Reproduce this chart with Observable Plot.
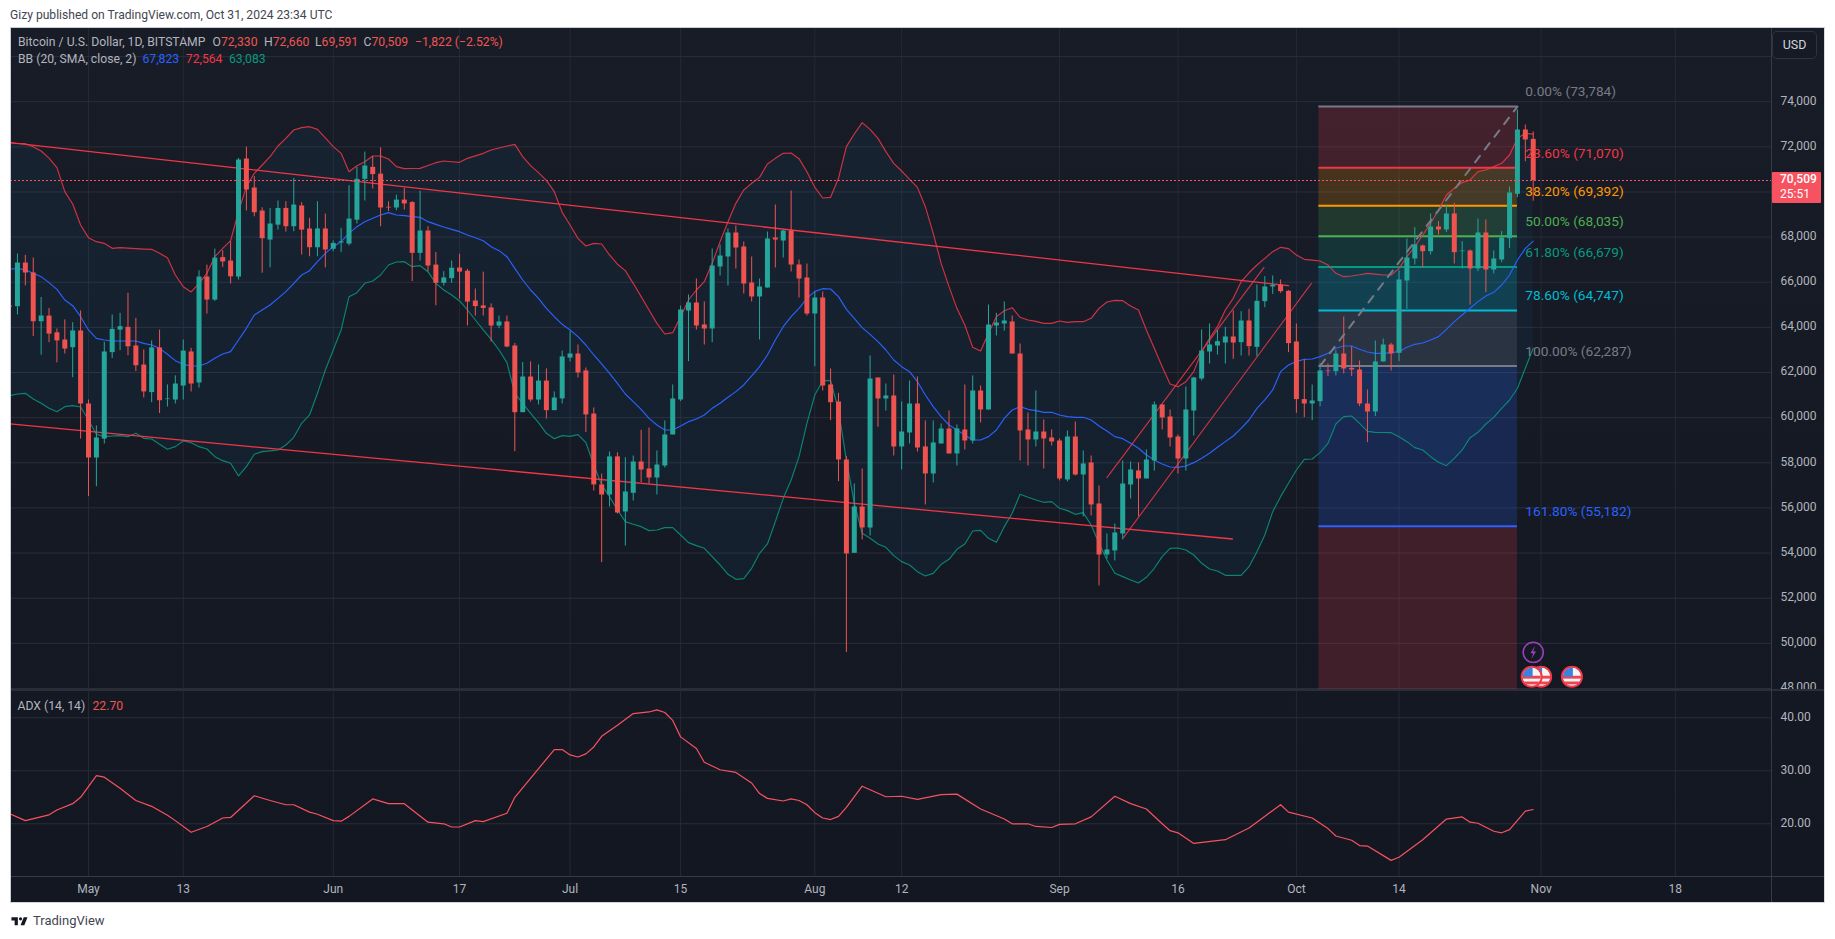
<!DOCTYPE html>
<html>
<head>
<meta charset="utf-8">
<script src="https://cdn.jsdelivr.net/npm/d3@7"></script>
<script src="https://cdn.jsdelivr.net/npm/@observablehq/plot@0.6"></script>
<style>
html,body{margin:0;padding:0;background:#fff;}
#page{position:relative;width:1835px;height:939px;overflow:hidden;font-family:Roboto,sans-serif;}
#panel{position:absolute;left:10px;top:27px;width:1815px;height:876px;background:linear-gradient(#181c27,#131722);}
#panel:after{content:"";position:absolute;inset:0;border:1px solid #c9ccd4;border-right-color:#d8dae0;border-bottom-color:#d1d4dc;pointer-events:none;}
.pane{position:absolute;left:0;}
.pane svg{display:block;background:transparent;}
.hr{position:absolute;left:0;width:1815px;background:#2a2e39;}
.vr{position:absolute;left:1761px;width:1px;top:0;height:876px;background:#363a45;}
.t{position:absolute;white-space:nowrap;font-size:12.2px;line-height:16px;transform:translateY(-50%);color:#b2b5be;}
.r{color:#f0564f;}
.tag{position:absolute;left:1772px;top:172px;width:49px;height:31px;background:#f7525f;border-radius:1px;color:#fff;font-size:12px;}
.tag div{position:absolute;left:8px;line-height:14px;}
.usd{position:absolute;left:1772px;top:31px;width:43px;height:26px;border:1px solid #2f333f;border-radius:5px;background:#161a25;color:#d1d4dc;font-size:12.5px;line-height:26px;text-align:center;box-sizing:content-box;}
</style>
</head>
<body>
<div id="page">
  <div class="t" style="left:10px;top:15px;color:#434651;font-size:12.1px">Gizy published on TradingView.com, Oct 31, 2024 23:34 UTC</div>
  <div id="panel">
    <div class="pane" id="price" style="top:0"></div>
    <div class="hr" style="top:662px;height:2px"></div>
    <div class="pane" id="adx" style="top:663px"></div>
    <div class="hr" style="top:849px;height:1px;background:#363a45"></div>
    <div class="vr"></div>
  </div>
  <div class="t" style="left:18px;top:42px">Bitcoin / U.S. Dollar, 1D, BITSTAMP</div>
  <div class="t" style="left:212.5px;top:42px">O<span class="r">72,330</span></div>
  <div class="t" style="left:264px;top:42px">H<span class="r">72,660</span></div>
  <div class="t" style="left:315px;top:42px">L<span class="r">69,591</span></div>
  <div class="t" style="left:363.5px;top:42px">C<span class="r">70,509</span></div>
  <div class="t r" style="left:415px;top:42px">−1,822 (−2.52%)</div>
  <div class="t" style="left:18px;top:59px">BB (20, SMA, close, 2)</div>
  <div class="t" style="left:142.5px;top:59px;color:#2962ff">67,823</div>
  <div class="t" style="left:185.8px;top:59px;color:#f23645">72,564</div>
  <div class="t" style="left:229px;top:59px;color:#089981">63,083</div>
  <div class="t" style="left:17.5px;top:706px">ADX (14, 14)</div>
  <div class="t r" style="left:92.5px;top:706px">22.70</div>
  <div class="tag"><div style="top:0px;font-weight:500">70,509</div><div style="top:15px">25:51</div></div>
  <div class="usd">USD</div>
  <svg style="position:absolute;left:10px;top:914px" width="20" height="15" viewBox="0 0 36 28"><path fill="#131722" d="M14 6H2v6h6v9h6V6zm12 15h-7l6-15h7l-6 15zm-7-9a3 3 0 100-6 3 3 0 000 6z"/></svg>
  <div class="t" style="left:33px;top:921px;color:#434651;font-size:13px">TradingView</div>
</div>
<script>
// ---- dates: first candle, and the day index of May 1 within the arrays
const firstCandle = Date.UTC(2024, 3, 21);
const DAY = 864e5;
const may1 = Date.UTC(2024, 4, 1);
const dayDate = d => new Date(may1 + d * DAY);

// ---- candles, one per day from Apr 21 to Oct 31 2024
const opens = [64950,64917,66851,66410,64250,64500,63760,63440,63100,63840,
60605,58213,59050,62880,63880,64000,63175,62330,61110,63090,
60800,60780,61400,62910,61535,66230,65210,67090,66940,66230,
71460,70175,69155,67870,68530,69270,68460,69380,68360,67530,
68360,67460,67740,67690,68750,70560,71090,70790,69320,69290,
69640,69530,67280,68270,66760,65950,66160,66630,66490,65170,
64950,64860,64060,64240,63175,60220,61800,60780,61620,60310,
60830,62640,62820,62070,60160,57020,56570,58260,55820,56647,
58035,57725,57326,57858,59232,60782,64726,65080,64106,63928,
66675,67118,68182,67561,65966,65346,65745,67960,67827,68270,
66764,66188,64593,65302,61447,60693,58124,53988,56041,55111,
61757,60827,60960,58700,59320,60605,58700,57503,58833,59497,
58390,59453,58966,61181,60339,64061,64150,64238,62820,59453,
59010,59364,59099,58966,57238,59143,57459,57991,56174,53914,
54092,54845,57016,57637,57282,58080,60561,60029,59143,58168,
60295,61713,62909,63175,63308,63574,63323,64283,63116,65140,
65790,65864,65598,63353,60800,60605,60708,62068,62038,62821,
62186,62112,60605,60250,62467,63220,62850,66055,67030,67606,
67355,68448,68315,69024,67355,67385,66587,68183,66543,66986,
67931,69896,72746,72330];
const closes = [64900,66851,66410,64250,64503,63700,63400,63040,63840,60605,
58213,59100,62910,63910,64030,63140,62300,61140,63090,60750,
60827,61490,62950,61490,66230,65210,67070,66900,66240,71415,
70090,69080,67930,68580,69270,68460,69420,68310,67530,68360,
67430,67720,67790,68800,70560,71150,70770,69290,69290,69640,
69470,67280,68270,66720,65950,66190,66620,66450,65120,64920,
64840,64060,64240,63130,60220,61800,60780,61620,60310,60870,
62690,62820,61980,60120,57020,56570,58260,55775,56706,58035,
57681,57326,57902,59232,60827,64770,65080,64061,63928,66720,
67163,68182,67517,65922,65346,65789,67916,67872,68270,66764,
66143,64593,65302,61402,60664,58124,53959,56041,55111,61713,
60827,60960,58700,59364,60605,58655,57503,58877,59497,58390,
59497,58966,61181,60339,64105,64194,64283,62820,59409,59010,
59364,59054,58921,57282,59143,57459,57947,56130,53914,54136,
54889,57060,57681,57282,58124,60561,59985,59099,58168,60339,
61757,62953,63220,63367,63574,63308,64283,63146,65155,65790,
65864,65583,63279,60800,60605,60738,62068,62038,62821,62156,
62112,60605,60250,62467,63220,62821,66100,67075,67651,67355,
68448,68315,69024,67311,67385,66587,68183,66543,67030,67961,
69955,72746,72303,70509];
const highs = [65300,67250,67190,67070,65320,64840,63930,64330,64210,64730,
60780,59630,63340,64550,64620,65510,64400,63000,63400,63880,
61450,61850,63440,63070,66510,66760,67470,67400,67800,71490,
71990,70680,69300,69270,69600,69570,70600,69530,68830,69570,
69020,67830,68390,70280,71090,71770,71560,71950,69560,69860,
70160,69570,70040,68460,67320,66470,66940,67240,66570,65700,
66450,65040,64500,64500,63290,62440,62470,62330,62160,61140,
62950,63810,63220,62200,60430,57500,58480,58440,58227,58301,
59438,59542,58523,59852,61447,64947,65435,66143,65125,67473,
67650,68359,68492,67783,67118,66143,68226,69423,68315,70043,
66986,66808,65568,65568,62156,61078,58272,57060,57725,62732,
61757,61491,61890,60694,61624,61802,59852,59852,59719,60295,
59675,61447,61846,61403,64991,64622,65125,64504,63264,60206,
61181,59896,59453,59054,59409,59808,58523,58301,56972,54845,
55288,58080,58035,57991,58567,60694,60561,60339,59232,61358,
61787,63884,64150,63884,64002,64740,64697,64800,65878,66248,
66277,66100,65627,64150,62555,61447,62400,62378,62969,64460,
63146,62511,61226,63397,63485,63294,66500,67917,68419,67651,
69024,68685,69423,69497,67798,67429,68803,68758,67385,68242,
70221,73632,72968,72660];
const lows = [64300,64550,65840,63590,62770,63320,62430,62820,61770,59050,
56500,56940,58830,62620,62970,62740,62040,60870,60660,60180,
60470,60605,60780,61140,61310,64590,65150,66660,65920,66100,
69160,68900,66400,66640,68310,68220,68240,67210,67130,67130,
66640,67350,67310,67610,68580,69600,70130,68460,69130,69170,
69200,66030,66940,66470,64960,65830,65950,65250,64060,64500,
64500,63350,63940,63100,58490,60220,60690,60560,59940,60310,
60605,62470,61760,59340,56750,53575,56040,55730,54313,56307,
57120,57060,56573,57769,59232,60708,62480,63884,63219,63323,
66276,65833,66587,65479,65125,63441,65745,66631,67074,66454,
65302,64504,62259,61181,59867,57164,49587,53988,54579,54756,
59571,60295,58301,57681,58833,58478,56130,57105,58833,58390,
57858,58567,58833,59763,60339,63618,63839,62820,58080,57858,
58700,57725,58744,57193,57149,57415,55598,55643,52541,53737,
53648,54579,56396,55613,57282,57636,59453,58700,57503,57636,
59187,61624,62378,62776,62377,62584,62732,62732,62703,64874,
65464,65509,62880,60192,59999,59866,60487,61817,61846,61935,
61817,60487,58891,60044,62467,62068,62481,64800,66765,66650,
67208,68094,68197,66809,66587,64992,66469,65539,66366,66868,
67503,69748,71343,69591];

// ---- Bollinger bands, same days
const bbUpper = [72185,72150,72140,72000,71815,71500,71077,70013,69467,68536,
67975,67798,67724,67503,67532,67510,67488,67470,67458,67281,
67089,66321,65804,65568,65952,66395,67133,67503,67842,69127,
70235,70826,71195,71564,72037,72376,72746,72850,72893,72775,
72400,72007,71712,70899,71165,71343,71594,71594,71461,71121,
71032,71040,71047,71170,71298,71372,71340,71313,71490,71600,
71712,71860,71950,72037,72110,71564,71165,70855,70515,70013,
69098,68536,67945,67606,67724,67695,67207,66800,66513,65952,
65361,64770,64179,63706,63765,64475,65213,65656,66025,66838,
67798,68684,69496,70087,70383,70648,71239,71490,71712,71727,
71476,70899,70205,69733,69762,70604,72007,72568,73071,72775,
72376,71786,71269,70929,70560,70205,69349,68167,66838,65804,
64844,64105,63116,62953,63736,64475,64740,64873,64445,64327,
64268,64179,64179,64283,64224,64253,64253,64401,64844,65124,
65198,65183,64947,64770,63884,63071,62259,61491,61373,61594,
62038,62924,63515,64031,64770,65287,66026,66420,66765,67060,
67355,67547,67488,67207,67016,66980,66942,66765,66395,66247,
66277,66330,66395,66360,66321,66321,66617,67134,67577,68094,
68611,69201,69866,70162,70413,70531,70900,70974,71122,71269,
71639,72377,72599,72564];
const bbMiddle = [66572,66616,66542,66395,66247,65981,65686,65213,64962,64474,
63885,63514,63441,63397,63397,63397,63397,63293,63219,63071,
62806,62525,62362,62288,62288,62407,62628,62820,62924,63441,
63958,64548,64770,64992,65287,65582,65952,66321,66513,66912,
67281,67576,67798,68167,68463,68684,68832,68979,69083,68979,
68950,68906,68876,68684,68566,68450,68344,68241,68093,67970,
67842,67576,67399,67133,66616,66099,65656,65287,64844,64474,
64135,63885,63588,63219,62776,62380,61964,61521,61048,60709,
60369,59970,59675,59453,59453,59630,59822,59941,60118,60413,
60635,60901,61152,61447,61846,62259,62776,63441,64031,64475,
64844,65287,65597,65715,65700,65361,64799,64401,63987,63692,
63367,62998,62554,62259,62038,61594,61004,60487,60044,59674,
59453,59231,59010,59010,59158,59453,59970,60339,60487,60369,
60310,60236,60236,60118,60044,60014,60014,59896,59630,59409,
59158,59069,58862,58641,58345,58124,57947,57814,57799,57858,
58006,58198,58419,58685,58936,59187,59527,59896,60413,60783,
61226,62038,62333,62481,62585,62599,62703,62850,63072,63175,
63175,63028,62910,62850,62850,62880,62924,63116,63249,63308,
63441,63589,63914,64254,64549,64845,65140,65391,65553,65878,
66321,66986,67503,67823];
const bbLower = [60974,61048,61078,60827,60635,60413,60265,60487,60531,60472,
59896,59261,59158,59187,59202,59158,59305,59084,59054,58818,
58596,58715,58966,58892,58715,58611,58271,58094,57976,57415,
57828,58375,58493,58530,58567,58788,59128,59748,60118,61078,
62112,62998,63884,65361,65538,65952,66055,66321,66764,66897,
66912,66690,66734,66468,65952,65656,65435,65169,64770,64327,
63885,63470,62998,62437,61078,60635,60192,59778,59305,59069,
59202,59172,59246,58892,57902,57016,56499,55908,55391,55273,
55170,54993,55022,55126,55126,54801,54461,54328,54210,53840,
53471,53058,52836,52866,53323,53988,54402,55391,56425,57238,
58272,59749,61004,61639,61639,60339,58124,56204,54875,54653,
54402,54254,53885,53619,53471,53176,52984,53101,53501,53722,
54165,54402,54978,55007,54653,54476,55170,55761,56603,56470,
56351,56248,56278,55982,55879,55716,55790,55244,54431,53693,
53102,52954,52807,52674,52925,53324,53840,54210,54225,54136,
53914,53545,53294,53206,53013,53013,53013,53397,54062,54800,
55834,56499,57090,57680,58153,58168,58448,58862,59719,60044,
60073,59748,59394,59349,59340,59335,59157,58936,58670,58567,
58271,58020,57872,58197,58567,59113,59349,59719,60014,60413,
60782,61300,62186,63083];

// ---- ADX, readings at the visible line vertices (day = days after May 1)
const adxDays = [-10,-8,-5,-4,-2,-1,1,2,4,6,8,10,11,13,15,17,18,21,23,25,26,28,29,31,32,33,36,38,40,43,45,46,47,49,50,53,54,59,60,61,62,63,64,65,67,69,71,72,73,74,75,77,78,80,82,84,85,86,88,89,90,91,92,93,94,95,96,98,101,103,105,108,110,113,116,117,119,120,122,123,125,127,130,132,134,136,137,138,140,144,147,151,152,155,157,158,160,161,162,165,166,169,172,174,175,176,178,179,180,182,183];
const adxValues = [21.9,20.6,21.7,22.6,23.8,25.0,29.1,28.8,26.7,24.4,23.3,21.6,20.6,18.4,19.5,21.1,21.2,25.3,24.4,23.6,23.6,22.2,21.8,20.6,20.5,21.4,24.7,23.8,23.8,20.3,20.0,19.4,19.4,20.6,20.4,22.0,25.0,34.0,34.0,33.0,32.6,33.2,34.5,36.5,38.6,40.8,41.1,41.5,41.0,39.5,36.4,34.2,31.6,30.2,29.7,27.7,25.7,24.8,24.3,24.7,24.4,23.6,22.1,21.1,20.8,21.4,23.1,27.1,25.1,25.2,24.6,25.5,25.6,22.8,20.9,20.0,20.0,19.5,19.3,19.9,20.0,21.3,25.2,23.8,22.8,20.0,18.7,18.3,16.3,17.0,19.2,23.6,22.2,21.1,19.1,17.7,16.9,15.9,15.8,13.1,13.7,17.0,20.9,21.3,20.3,20.1,18.6,18.3,18.9,22.4,22.7];

// ---- axes
const priceTicks = [48000,50000,52000,54000,56000,58000,60000,62000,64000,66000,68000,70000,72000,74000];
const priceGrid = [...priceTicks, 76000];
const adxTicks = [20,30,40];
const tickDays = [0,12,31,47,61,75,92,103,123,138,153,166,184,201];
const tickLabels = ["May","13","Jun","17","Jul","15","Aug","12","Sep","16","Oct","14","Nov","18"];

// ---- fib retracement
const fibStartDay = 155.85, fibEndDay = 181;
const fibLevels = [73784,71070,69392,68035,66679,64747,62287,55182];
const fibNames = ["0.00% (73,784)","23.60% (71,070)","38.20% (69,392)","50.00% (68,035)","61.80% (66,679)","78.60% (64,747)","100.00% (62,287)","161.80% (55,182)"];
const fibColors = ["#787b86","#f23645","#ff9800","#4caf50","#089981","#00bcd4","#787b86","#2962ff"];
const fibZoneColors = ["#f23645","#ff9800","#4caf50","#089981","#00bcd4","#787b86","#2962ff","#f23645"];
const fibFloor = 43685; // the 261.8% level, below the pane

// ---- drawn trend lines: [day, price]
const channelTop = [[-10,72190],[152,65849]];
const channelBottom = [[-10,59725],[144.9,54623]];
const riseA = [[129,57341],[148.9,66661]];
const riseB = [[131.1,54682],[154.9,65952]];
const fibDiagonal = [[156,62287],[181,73784]];

const lastClose = 70509;
const flagDays = [184,182.8,187.9];
const eventDay = 183;

// ---- checks
for (const a of [opens,closes,highs,lows,bbUpper,bbMiddle,bbLower]) if (a.length !== 194) throw new Error("length " + a.length);
if (adxDays.length !== adxValues.length) throw new Error("adx length");

const UP = "#26a69a", DOWN = "#ef5350";
const candles = opens.map((o,i) => ({
  date: new Date(firstCandle + i*DAY), open:o, close:closes[i], high:highs[i], low:lows[i],
  upper:bbUpper[i], middle:bbMiddle[i], lower:bbLower[i],
  color: closes[i] >= o ? UP : DOWN
}));
const xScale = {type:"utc", domain:[dayDate(-9.88), dayDate(213.18)]};
const tickDates = tickDays.map(dayDate);
const GRID = "#252934";
const line2 = a => a.map(([d,p]) => ({date:dayDate(d), price:p}));
const zones = fibLevels.map((v,i) => ({y1:v, y2: i<fibLevels.length-1 ? fibLevels[i+1] : fibFloor, fill:fibZoneColors[i]}));

const flagSvg = "data:image/svg+xml," + encodeURIComponent(
 '<svg xmlns="http://www.w3.org/2000/svg" viewBox="0 0 24 24"><defs><clipPath id="c"><circle cx="12" cy="12" r="9.5"/></clipPath></defs>'+
 '<circle cx="12" cy="12" r="10" fill="#f5f5f5"/><g clip-path="url(#c)"><rect y="11" width="24" height="3" fill="#f0424f"/><rect y="17" width="24" height="3" fill="#f0424f"/><rect x="2" y="2" width="11" height="10" fill="#3b82e0"/></g>'+
 '<circle cx="12" cy="12" r="10.5" fill="none" stroke="#f23645" stroke-width="2"/></svg>');
const boltSvg = "data:image/svg+xml," + encodeURIComponent(
 '<svg xmlns="http://www.w3.org/2000/svg" viewBox="0 0 24 24"><circle cx="12" cy="12" r="10.5" fill="none" stroke="#9c3fbd" stroke-width="1.6"/><path d="M14 5l-5 8h3l-2 6 5-8h-3z" fill="#9c3fbd"/></svg>');

const priceChart = Plot.plot({
  width:1815, height:663, marginLeft:0, marginRight:54, marginTop:0, marginBottom:0,
  style:{background:"transparent", fontFamily:"Roboto, sans-serif", fontSize:"12px"},
  x:{...xScale, axis:null},
  y:{domain:[47909,77288], label:null},
  marks:[
    Plot.ruleX(tickDates,{stroke:GRID, strokeWidth:1}),
    Plot.ruleY(priceGrid,{stroke:"#2a2e39", strokeWidth:1}),
    Plot.axisY({ticks:priceTicks, anchor:"right", tickSize:0, tickPadding:9, tickFormat:d3.format(","), fill:"#b2b5be", dy:-1, label:null}),
    Plot.areaY(candles,{x:"date", y1:"upper", y2:"lower", fill:"#2196f3", fillOpacity:0.06, clip:true}),
    Plot.rect(zones,{x1:dayDate(fibStartDay), x2:dayDate(fibEndDay), y1:"y1", y2:"y2", fill:d=>d.fill, fillOpacity:0.2, clip:true}),
    Plot.ruleY(fibLevels,{x1:dayDate(fibStartDay), x2:dayDate(fibEndDay), stroke:(d,i)=>fibColors[i], strokeWidth:2}),
    Plot.line(candles,{x:"date", y:"upper", stroke:"#f23645", strokeWidth:1.15, strokeOpacity:.85, clip:true}),
    Plot.line(candles,{x:"date", y:"middle", stroke:"#2962ff", strokeWidth:1.15, clip:true}),
    Plot.line(candles,{x:"date", y:"lower", stroke:"#089981", strokeWidth:1.15, strokeOpacity:.85, clip:true}),
    Plot.line(line2(channelTop),{x:"date", y:"price", stroke:"#f23645", strokeWidth:1.3, clip:true}),
    Plot.line(line2(channelBottom),{x:"date", y:"price", stroke:"#f23645", strokeWidth:1.3, clip:true}),
    Plot.line(line2(riseA),{x:"date", y:"price", stroke:"#f23645", strokeWidth:1.1, strokeOpacity:.85}),
    Plot.line(line2(riseB),{x:"date", y:"price", stroke:"#f23645", strokeWidth:1.1, strokeOpacity:.85}),
    Plot.ruleX(candles,{x:"date", y1:"low", y2:"high", stroke:"color", strokeWidth:1, clip:true}),
    Plot.ruleX(candles,{x:"date", y1:"open", y2:"close", stroke:"color", strokeWidth:5, clip:true}),
    Plot.line(line2(fibDiagonal),{x:"date", y:"price", stroke:"#787b86", strokeWidth:2, strokeDasharray:"8,8"}),
    Plot.ruleY([lastClose],{stroke:"#f7525f", strokeWidth:1.2, strokeDasharray:"2,2"}),
    Plot.text(fibNames,{x:dayDate(182), y:(d,i)=>fibLevels[i], dy:-14.5, text:d=>d, fill:(d,i)=>fibColors[i], textAnchor:"start", fontSize:13.7}),
    Plot.image([eventDay],{x:dayDate, y:()=>49600, src:boltSvg, width:23, height:23}),
    Plot.image(flagDays,{x:dayDate, y:()=>48520, src:flagSvg, width:23, height:23})
  ]
});
document.getElementById("price").appendChild(priceChart);

const adxChart = Plot.plot({
  width:1815, height:213, marginLeft:0, marginRight:54, marginTop:0, marginBottom:26,
  style:{background:"transparent", fontFamily:"Roboto, sans-serif", fontSize:"12px"},
  x:{...xScale, label:null},
  y:{domain:[9.87,45.15], label:null},
  marks:[
    Plot.ruleX(tickDates,{stroke:GRID, strokeWidth:1}),
    Plot.ruleY(adxTicks,{stroke:"#2a2e39", strokeWidth:1}),
    Plot.axisX({ticks:tickDates, tickSize:0, tickPadding:7, tickFormat:(d,i)=>tickLabels[tickDates.findIndex(t=>+t===+d)], fill:"#b2b5be", label:null}),
    Plot.axisY({ticks:adxTicks, anchor:"right", tickSize:0, tickPadding:9, tickFormat:d3.format(".2f"), fill:"#b2b5be", dy:-1, label:null}),
    Plot.line(adxDays.map((d,i)=>({date:dayDate(d), v:adxValues[i]})),{x:"date", y:"v", stroke:"#f7525f", strokeWidth:1.2, curve:"linear", clip:true})
  ]
});
document.getElementById("adx").appendChild(adxChart);
</script>
</body>
</html>
